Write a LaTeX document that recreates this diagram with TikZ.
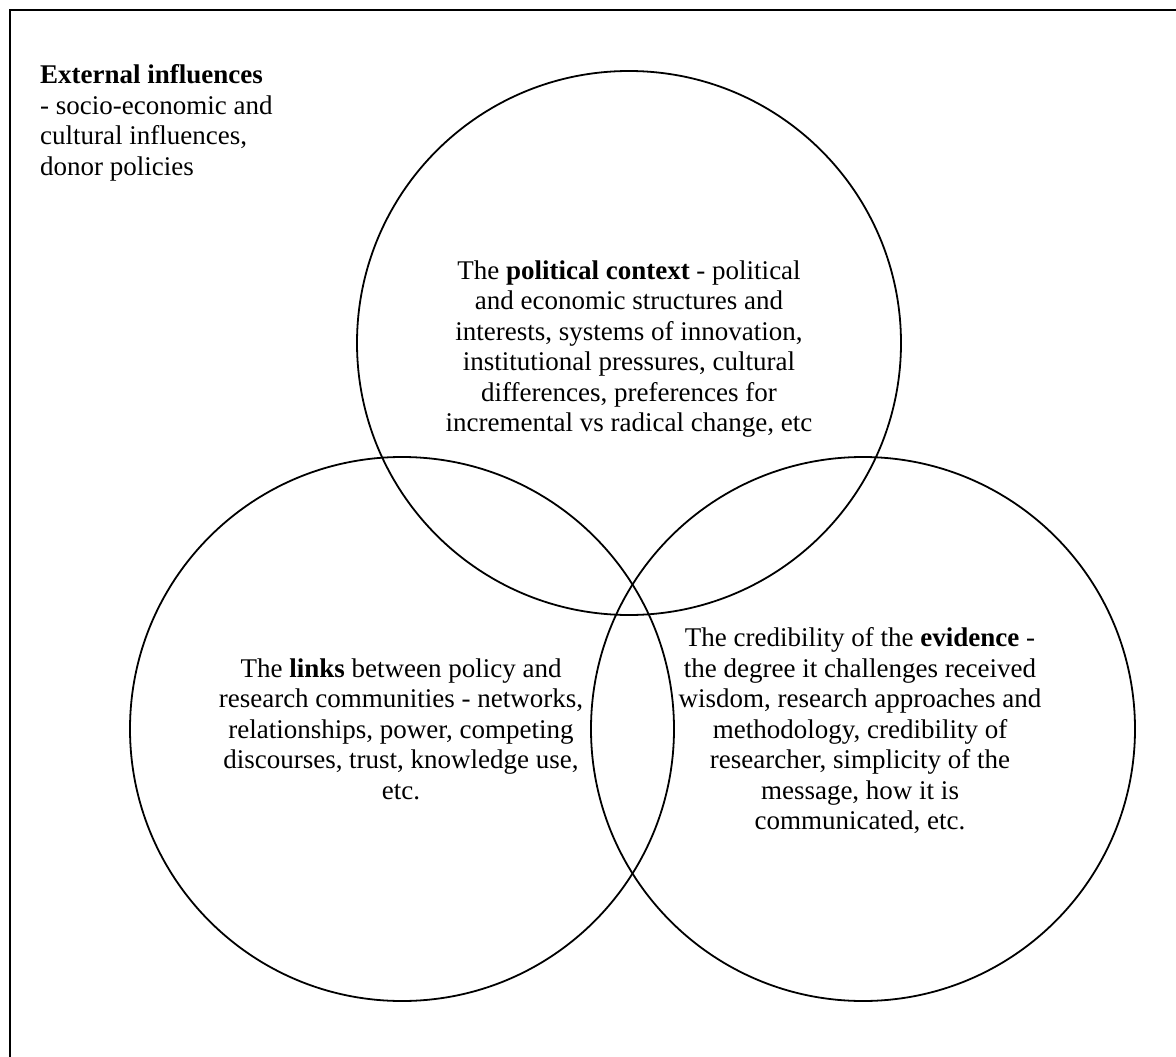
\documentclass[tikz,border=0pt]{standalone}
\usepackage{fontspec}
\setmainfont{Liberation Serif}
\begin{document}
\begin{tikzpicture}[x=1pt,y=-1pt,
  ring/.style={draw=black,line width=1.8pt,circle,minimum size=544pt,inner sep=0pt},
  frameline/.style={draw=black,line width=2pt},
  bodytext/.style={align=center,inner sep=0pt,font=\fontsize{27}{30.5}\selectfont},
  sidetext/.style={align=left,inner sep=0pt,anchor=north west,font=\fontsize{27}{30.5}\selectfont}]
\useasboundingbox (0,0) rectangle (1176,1057);
\fill[white] (0,0) rectangle (1176,1057);
% frame (only top and left edges visible)
\coordinate (fbl) at (10,1060);
\coordinate (ftl) at (10,10);
\coordinate (ftr) at (1180,10);
\draw[frameline] (fbl) -- (ftl) -- (ftr);
% circles
\node[ring] (politics) at (629,343) {};
\node[ring] (links) at (402,729) {};
\node[ring] (evidence) at (863,729) {};
% texts
\node[sidetext] (external) at (40,64.5) {\textbf{External influences}\\- socio-economic and\\cultural influences,\\donor policies};
\node[bodytext] (politicstext) at (629,349) {The \textbf{political context} - political\\and economic structures and\\interests, systems of innovation,\\institutional pressures, cultural\\differences, preferences for\\incremental vs radical change, etc};
\node[bodytext] (linkstext) at (401,729) {The \textbf{links} between policy and\\research communities - networks,\\relationships, power, competing\\discourses, trust, knowledge use,\\etc.};
\node[bodytext] (evidencetext) at (860,731) {The credibility of the \textbf{evidence} -\\the degree it challenges received\\wisdom, research approaches and\\methodology, credibility of\\researcher, simplicity of the\\message, how it is\\communicated, etc.};
\end{tikzpicture}
\end{document}
